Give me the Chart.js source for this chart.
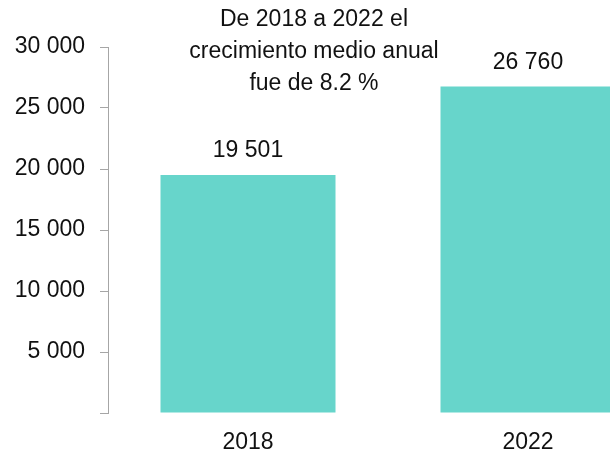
<!DOCTYPE html>
<html>
<head>
<meta charset="utf-8">
<script src="https://cdn.jsdelivr.net/npm/chart.js@4/dist/chart.umd.min.js"></script>
<style>
html,body{margin:0;padding:0;background:#fff;overflow:hidden;width:610px;height:449px;}
#wrap{position:relative;width:669px;height:449px;}
</style>
</head>
<body>
<div id="wrap"><canvas id="c" width="669" height="449"></canvas></div>
<script>
const categories = ['2018', '2022'];
const values = [19501, 26760];
const yTicks = [0, 5000, 10000, 15000, 20000, 25000, 30000];
const noteLines = ['De 2018 a 2022 el', 'crecimiento medio anual', 'fue de 8.2 %'];

const FONT = 'Liberation Sans, Arial, sans-serif';
const FS = 23;
const fmt = v => String(Math.round(v)).replace(/\B(?=(\d{3})+(?!\d))/g, ' ');

const labelPlugin = {
  id: 'valueLabels',
  afterDatasetsDraw(chart) {
    const ctx = chart.ctx;
    const meta = chart.getDatasetMeta(0);
    ctx.save();
    ctx.font = FS + 'px ' + FONT;
    ctx.fillStyle = '#111';
    ctx.textAlign = 'center';
    ctx.textBaseline = 'middle';
    meta.data.forEach((bar, i) => {
      ctx.fillText(fmt(values[i]), bar.x, bar.y - 24);
    });
    ctx.restore();
  }
};

const notePlugin = {
  id: 'note',
  afterDraw(chart) {
    const ctx = chart.ctx;
    ctx.save();
    ctx.font = FS + 'px ' + FONT;
    ctx.fillStyle = '#111';
    ctx.textAlign = 'center';
    ctx.textBaseline = 'middle';
    noteLines.forEach((t, i) => ctx.fillText(t, 314, 20 + i * 32));
    ctx.restore();
  }
};

new Chart(document.getElementById('c'), {
  type: 'bar',
  data: {
    labels: categories,
    datasets: [{
      data: values,
      backgroundColor: '#67D5CB',
      borderWidth: 0,
      barPercentage: 0.625,
      categoryPercentage: 1.0
    }]
  },
  options: {
    responsive: false,
    animation: false,
    devicePixelRatio: 1,
    layout: { padding: { top: 47, left: 0, right: 1, bottom: 0 } },
    plugins: { legend: { display: false }, tooltip: { enabled: false }, title: { display: false } },
    scales: {
      x: {
        grid: { display: false },
        border: { display: false },
        ticks: { color: '#111', font: { size: FS, family: FONT }, padding: 8, maxRotation: 0 },
        afterFit(s) { s.height = 36; }
      },
      y: {
        min: 0,
        max: 30000,
        afterBuildTicks(s) { s.ticks = yTicks.map(v => ({ value: v })); },
        grid: { drawOnChartArea: false, drawTicks: true, tickLength: 8, color: '#A6A6A6', lineWidth: 1 },
        border: { display: true, color: '#A6A6A6', width: 1 },
        ticks: {
          color: '#111',
          font: { size: FS, family: FONT },
          padding: 15,
          callback: v => (v === 0 ? '' : fmt(v))
        },
        afterFit(s) { s.width = 108; }
      }
    }
  },
  plugins: [labelPlugin, notePlugin]
});
</script>
</body>
</html>
